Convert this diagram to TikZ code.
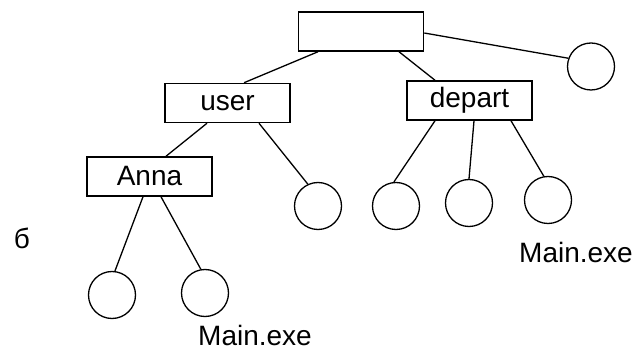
\documentclass[tikz,border=0pt]{standalone}
\usepackage{fontspec}
\setmainfont{Liberation Sans}
\begin{document}
\begin{tikzpicture}[x=1pt,y=-1pt,
  dirbox/.style={draw,line width=1.5pt,rectangle,minimum width=125pt,minimum height=39pt,inner sep=0pt,
    font=\fontsize{28}{30}\selectfont},
  filenode/.style={draw,line width=1.3pt,circle,minimum size=47pt,inner sep=0pt},
  link/.style={line width=1.3pt},
  lbl/.style={font=\fontsize{28}{30}\selectfont,inner sep=0pt}]
\useasboundingbox (0,0) rectangle (639,352);
% directories
\node[dirbox] (root) at (361,31.5) {};
\node[dirbox] (user) at (227.5,103) {user};
\node[dirbox] (depart) at (469.5,100.5) {depart};
\node[dirbox] (anna) at (149.5,176.5) {Anna};
% files
\node[filenode] (rc) at (591,66.5) {};
\node[filenode] (uc) at (318,206) {};
\node[filenode] (d1) at (396,206) {};
\node[filenode] (d2) at (469,203) {};
\node[filenode] (d3) at (548,200) {};
\node[filenode] (a1) at (112,295) {};
\node[filenode] (a2) at (205,293) {};
% connectors
\draw[link] ([xshift=-43pt]root.south) -- ([xshift=16.5pt]user.north);
\draw[link] ([xshift=38pt]root.south) -- ([xshift=-34.5pt]depart.north);
\draw[link] ([yshift=-1.5pt]root.east) -- (rc.160);
\draw[link] ([xshift=-20.5pt]user.south) -- ([xshift=16.5pt]anna.north);
\draw[link] ([xshift=31.5pt]user.south) -- (uc.115);
\draw[link] ([xshift=-34.5pt]depart.south) -- (d1.95);
\draw[link] ([xshift=4.5pt]depart.south) -- (d2.north);
\draw[link] ([xshift=41.5pt]depart.south) -- (d3.100);
\draw[link] ([xshift=-6.5pt]anna.south) -- (a1.83);
\draw[link] ([xshift=11.5pt]anna.south) -- (a2.100);
% labels
\node[lbl] (b) at (22,238) {б};
\node[lbl] (m1) at (255,335) {Main.exe};
\node[lbl] (m2) at (576,252) {Main.exe};
\end{tikzpicture}
\end{document}
